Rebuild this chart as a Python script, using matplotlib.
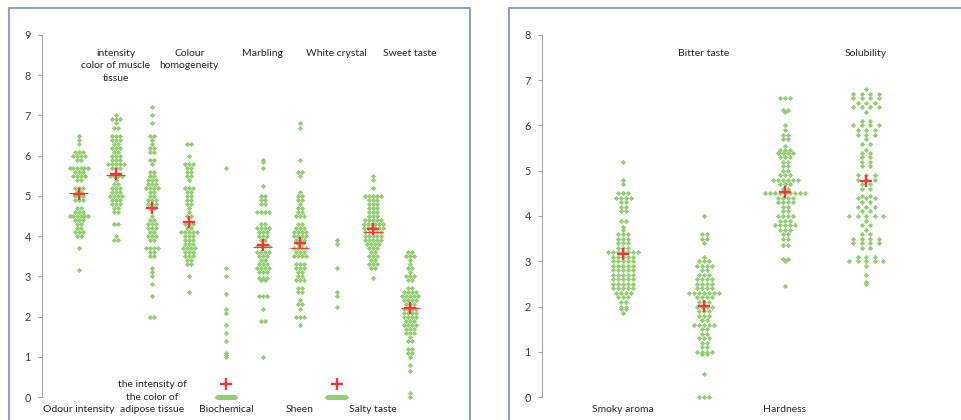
import numpy as np
import matplotlib
matplotlib.use('Agg')
import matplotlib.pyplot as plt
from matplotlib.patches import Rectangle

plt.rcParams['font.family'] = ['Lato', 'DejaVu Sans']

W, H = 961, 420
GREEN = '#92cf72'
RED = '#f5373c'
FRAME = '#8496cb'

# ---------------------------------------------------------------
# left panel data: score levels and how many panellists gave each
left_names = ['Odour intensity', 'intensity\ncolor of muscle\ntissue',
              'the intensity of\nthe color of\nadipose tissue', 'Colour\nhomogeneity',
              'Biochemical', 'Marbling', 'Sheen', 'White crystal',
              'Salty taste', 'Sweet taste']

odour_lv = [6.5, 6.4, 6.3, 6.1, 6.0, 5.9, 5.7, 5.6, 5.5, 5.4, 5.2, 5.1, 5.0, 4.9,
            4.7, 4.6, 4.5, 4.4, 4.3, 4.2, 4.1, 4.0, 3.7, 3.15]
odour_n = [1, 1, 1, 3, 4, 2, 6, 3, 4, 2, 3, 2, 3, 3, 2, 3, 6, 3, 2, 2, 3, 2, 1, 1]

muscle_lv = [7.0, 6.9, 6.8, 6.7, 6.5, 6.4, 6.3, 6.2, 6.1, 6.0, 5.9, 5.8, 5.7, 5.5,
             5.4, 5.3, 5.2, 5.1, 5.0, 4.9, 4.8, 4.7, 4.6, 4.3, 4.0, 3.9]
muscle_n = [1, 3, 1, 2, 3, 3, 2, 3, 2, 3, 3, 5, 3, 4, 1, 2, 3, 3, 4, 3, 3, 2, 2, 2, 1, 2]

adipose_lv = [7.2, 7.0, 6.8, 6.5, 6.4, 6.3, 6.2, 6.1, 5.9, 5.8, 5.6, 5.5, 5.4, 5.3,
              5.2, 5.1, 5.0, 4.9, 4.8, 4.7, 4.5, 4.4, 4.3, 4.2, 4.1, 4.0, 3.9, 3.7,
              3.6, 3.5, 3.2, 3.1, 3.0, 2.8, 2.5, 2.0]
adipose_n = [1, 1, 1, 2, 1, 1, 2, 2, 2, 1, 2, 2, 3, 3, 4, 2, 2, 3, 3, 2, 1, 2, 3, 3,
             2, 3, 2, 4, 2, 2, 1, 1, 1, 1, 1, 2]

homog_lv = [6.3, 6.0, 5.8, 5.7, 5.6, 5.5, 5.4, 5.2, 5.1, 5.0, 4.9, 4.8, 4.7, 4.6,
            4.5, 4.3, 4.2, 4.1, 4.0, 3.9, 3.8, 3.7, 3.6, 3.5, 3.4, 3.3, 3.0, 2.6]
homog_n = [2, 1, 3, 2, 2, 2, 1, 3, 2, 2, 2, 2, 1, 1, 2, 3, 2, 5, 3, 3, 3, 4, 3, 3,
           2, 2, 1, 1]

biochem_lv = [5.7, 3.2, 3.0, 2.55, 2.2, 2.1, 1.8, 1.6, 1.4, 1.1, 1.05, 1.0, 0.0]
biochem_n = [1, 1, 1, 1, 1, 1, 1, 1, 1, 1, 1, 1, 69]

marbling_lv = [5.9, 5.85, 5.7, 5.25, 5.0, 4.9, 4.8, 4.6, 4.3, 4.2, 4.1, 4.0, 3.9,
               3.75, 3.6, 3.5, 3.4, 3.3, 3.2, 3.1, 2.95, 2.9, 2.5, 2.2, 1.9, 1.0]
marbling_n = [1, 1, 1, 1, 2, 2, 2, 4, 2, 4, 3, 3, 2, 4, 4, 3, 2, 3, 4, 3, 3, 2, 3,
              1, 2, 1]

sheen_lv = [6.8, 6.7, 5.9, 5.6, 5.5, 5.1, 5.0, 4.9, 4.8, 4.7, 4.6, 4.5, 4.3, 4.2,
            4.1, 4.0, 3.9, 3.8, 3.7, 3.6, 3.5, 3.3, 3.2, 3.1, 3.0, 2.9, 2.7, 2.6,
            2.4, 2.3, 2.2, 2.0, 1.8]
sheen_n = [1, 1, 1, 2, 1, 1, 2, 2, 1, 2, 2, 3, 2, 3, 4, 4, 3, 2, 4, 3, 4, 3, 3, 2,
           2, 3, 2, 2, 1, 2, 1, 3, 1]

crystal_lv = [3.9, 3.8, 3.2, 2.6, 2.5, 2.25, 0.0]
crystal_n = [1, 1, 1, 1, 1, 1, 49]

salty_lv = [5.5, 5.4, 5.2, 5.0, 4.9, 4.8, 4.7, 4.6, 4.5, 4.4, 4.3, 4.2, 4.1, 4.0,
            3.9, 3.8, 3.7, 3.6, 3.5, 3.4, 3.3, 3.2, 2.95]
salty_n = [1, 1, 1, 5, 3, 3, 3, 3, 3, 5, 6, 6, 5, 5, 5, 4, 3, 2, 3, 2, 3, 2, 1]

sweet_lv = [3.6, 3.5, 3.4, 3.3, 3.2, 3.1, 3.0, 2.9, 2.7, 2.6, 2.5, 2.4, 2.3, 2.2,
            2.1, 2.0, 1.9, 1.8, 1.7, 1.6, 1.5, 1.4, 1.2, 1.1, 1.0, 0.8, 0.65, 0.1, 0.0]
sweet_n = [2, 3, 1, 1, 2, 1, 3, 2, 2, 4, 5, 4, 3, 4, 4, 4, 3, 4, 3, 3, 1, 2, 2, 2,
           1, 1, 1, 1, 1]

left_levels = [odour_lv, muscle_lv, adipose_lv, homog_lv, biochem_lv,
               marbling_lv, sheen_lv, crystal_lv, salty_lv, sweet_lv]
left_counts = [odour_n, muscle_n, adipose_n, homog_n, biochem_n,
               marbling_n, sheen_n, crystal_n, salty_n, sweet_n]
left_means = [5.05, 5.54, 4.70, 4.35, 0.33, 3.78, 3.84, 0.33, 4.17, 2.21]
left_medians = [5.08, 5.51, np.nan, np.nan, np.nan, 3.74, 3.70, np.nan, 4.10, 2.21]

# ---------------------------------------------------------------
# right panel data
right_names = ['Smoky aroma', 'Bitter taste', 'Hardness', 'Solubility']

smoky_lv = [5.2, 4.8, 4.7, 4.5, 4.4, 4.3, 4.2, 4.1, 3.9, 3.75, 3.7, 3.6, 3.5, 3.4,
            3.3, 3.2, 3.1, 3.0, 2.9, 2.8, 2.7, 2.6, 2.5, 2.4, 2.3, 2.2, 2.1, 2.0,
            1.95, 1.85]
smoky_n = [1, 1, 1, 3, 4, 2, 2, 2, 2, 1, 1, 3, 3, 3, 3, 7, 5, 5, 5, 5, 5, 5, 5, 5,
           4, 3, 2, 2, 2, 1]

bitter_lv = [4.0, 3.6, 3.5, 3.4, 3.1, 3.0, 2.9, 2.8, 2.7, 2.6, 2.5, 2.4, 2.3, 2.2,
             2.1, 2.0, 1.9, 1.8, 1.7, 1.6, 1.5, 1.4, 1.3, 1.2, 1.1, 1.0, 0.95, 0.5, 0.0]
bitter_n = [1, 2, 2, 1, 1, 3, 4, 2, 3, 4, 4, 4, 7, 4, 3, 4, 3, 3, 2, 5, 2, 2, 3, 2,
            2, 4, 2, 1, 3]

hard_lv = [6.6, 6.35, 6.3, 6.0, 5.9, 5.8, 5.7, 5.55, 5.45, 5.4, 5.3, 5.2, 5.1, 5.0,
           4.9, 4.8, 4.7, 4.6, 4.5, 4.4, 4.3, 4.2, 4.1, 4.0, 3.9, 3.8, 3.7, 3.6,
           3.5, 3.35, 3.05, 3.0, 2.45]
hard_n = [3, 2, 1, 1, 1, 2, 2, 1, 3, 4, 3, 2, 2, 2, 3, 6, 3, 2, 9, 4, 4, 2, 2, 4,
          3, 5, 3, 2, 2, 2, 2, 1, 1]

solub_lv = [6.8, 6.7, 6.6, 6.5, 6.4, 6.3, 6.1, 6.0, 5.9, 5.8, 5.7, 5.6, 5.45, 5.4,
            5.3, 5.2, 5.1, 4.9, 4.8, 4.7, 4.6, 4.45, 4.4, 4.3, 4.2, 4.1, 4.0, 3.9,
            3.8, 3.7, 3.6, 3.5, 3.4, 3.3, 3.1, 3.0, 2.9, 2.7, 2.55, 2.5]
solub_n = [1, 4, 4, 3, 4, 1, 2, 4, 3, 3, 1, 2, 1, 2, 2, 2, 2, 3, 3, 2, 2, 2, 3, 2,
           3, 2, 5, 1, 2, 1, 2, 4, 4, 2, 3, 5, 1, 1, 1, 1]

right_levels = [smoky_lv, bitter_lv, hard_lv, solub_lv]
right_counts = [smoky_n, bitter_n, hard_n, solub_n]
right_means = [3.16, 2.02, 4.53, 4.77]
right_medians = [np.nan, np.nan, np.nan, np.nan]


# ---------------------------------------------------------------
def swarm_x(vals, center, ppu, gap_px, max_px):
    # equal scores side by side, squeezed when a row gets too wide
    xs = np.empty(len(vals))
    for v in np.unique(vals):
        idx = np.where(vals == v)[0]
        n = len(idx)
        step = gap_px
        if n > 1 and (n - 1) * step > max_px:
            step = max_px / (n - 1)
        offs = (np.arange(n) - (n - 1) / 2.0) * step
        xs[idx] = center + offs / ppu
    return xs


def draw_panel(ax, names, levels, counts, means, medians, ymax, gap_px, spread):
    n = len(names)
    ax.set_xlim(0, n + 1)
    ax.set_ylim(0, ymax)
    ppu = ax.get_position().width * W / (n + 1)

    for i in range(n):
        x0 = i + 1
        vals = np.repeat(levels[i], counts[i])
        xs = swarm_x(vals, x0, ppu, gap_px * spread[i], ppu * 0.5)
        ax.plot(xs, vals, 'D', ms=2.7, color=GREEN, mec='none',
                clip_on=False, zorder=2)
        if not np.isnan(medians[i]):
            ax.hlines(medians[i], x0 - 9.5 / ppu, x0 + 9.5 / ppu,
                      color=RED, lw=0.7, zorder=3)
        ax.plot([x0], [means[i]], '+', ms=8, mew=1.7, color=RED,
                clip_on=False, zorder=4)

        if i % 2 == 0:
            ax.text(x0, -0.047, names[i], transform=ax.get_xaxis_transform(),
                    ha='center', va='bottom', fontsize=7.5, color='#262626',
                    linespacing=1.5)
        else:
            ax.text(x0, 0.962, names[i], transform=ax.get_xaxis_transform(),
                    ha='center', va='top', fontsize=7.5, color='#262626',
                    linespacing=1.5)

    for s in ['top', 'right', 'bottom']:
        ax.spines[s].set_visible(False)
    ax.spines['left'].set_color('#a6a6a6')
    ax.spines['left'].set_linewidth(0.8)
    ax.set_xticks([])
    ax.set_yticks(range(0, ymax + 1))
    ax.tick_params(axis='y', direction='out', length=3, width=0.8,
                   color='#a6a6a6', labelsize=7.8, labelcolor='#404040', pad=5)


fig = plt.figure(figsize=(W / 100.0, H / 100.0), dpi=100)

ax_l = fig.add_axes([42.0 / W, 23.0 / H, 405.0 / W, 362.0 / H])
ax_r = fig.add_axes([542.0 / W, 23.0 / H, 405.0 / W, 362.0 / H])

draw_panel(ax_l, left_names, left_levels, left_counts, left_means, left_medians,
           9, 4.0, [1] * 10)
draw_panel(ax_r, right_names, right_levels, right_counts, right_means, right_medians,
           8, 5.0, [1, 1, 1, 1.7])

# panel frames (bottom and right edges run off the picture)
fig.add_artist(Rectangle((9.0 / W, -0.05), 461.0 / W, 1.05 - 8.0 / H,
                         transform=fig.transFigure, fill=False, ec=FRAME, lw=1.3))
fig.add_artist(Rectangle((509.0 / W, -0.05), 0.6, 1.05 - 8.0 / H,
                         transform=fig.transFigure, fill=False, ec=FRAME, lw=1.3))

fig.savefig('out.png', dpi=100)
